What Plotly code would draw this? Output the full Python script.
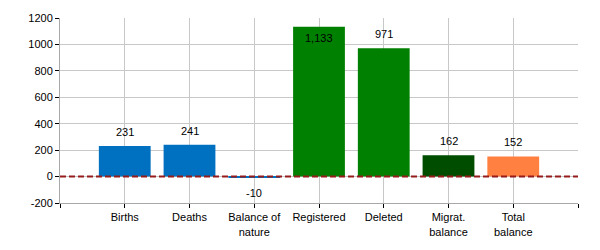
import plotly.graph_objects as go

categories = ["Births", "Deaths", "Balance of<br>nature", "Registered", "Deleted", "Migrat.<br>balance", "Total<br>balance"]
values = [231, 241, -10, 1133, 971, 162, 152]
colors = ["#0070C0", "#0070C0", "#0070C0", "#008000", "#008000", "#004D00", "#FF8040"]
labels = ["231", "241", "-10", "1,133", "971", "162", "152"]
y_ticks = [-200, 0, 200, 400, 600, 800, 1000, 1200]
y_tick_text = ["-200", "0", "200", "400", "600", "800", "1000", "1200"]

positions = list(range(1, len(categories) + 1))

fig = go.Figure()
fig.add_trace(go.Bar(x=positions, y=values, marker=dict(color=colors, line=dict(width=0)),
                     width=0.8, hoverinfo="skip"))

y_min, y_max = -200, 1200
plot_h = 250 - 15 - 46
px_per_unit = plot_h / (y_max - y_min)
annotations = []
for p, v, lab in zip(positions, values, labels):
    if v >= 0:
        room = (y_max - v) * px_per_unit
        shift = 14 if room > 20 else -11
    else:
        shift = -15
    annotations.append(dict(x=p, y=v, text=lab, showarrow=False, yshift=shift,
                            font=dict(size=11, color="#000000", family="Liberation Sans, Arial, sans-serif")))

fig.add_shape(type="line", xref="paper", yref="y", x0=0, x1=1, y0=0, y1=0,
              line=dict(color="#961C1C", width=2, dash="6px,3px"), layer="above")

fig.update_layout(
    width=600, height=250,
    margin=dict(l=60, r=22, t=15, b=46),
    paper_bgcolor="white", plot_bgcolor="white",
    showlegend=False,
    annotations=annotations,
    font=dict(family="Liberation Sans, Arial, sans-serif", size=11, color="#000000"),
    xaxis=dict(range=[0, len(categories) + 1], tickvals=[0] + positions + [len(categories) + 1],
               ticktext=[""] + categories + [""], showgrid=True, gridcolor="#C8C8C8", gridwidth=1,
               showline=True, linecolor="#A8A8A8", linewidth=1, ticks="outside", ticklen=4,
               tickcolor="#000000", zeroline=False, tickfont=dict(size=11)),
    yaxis=dict(range=[y_min, y_max], tickvals=y_ticks, ticktext=y_tick_text, showgrid=True,
               gridcolor="#C8C8C8", gridwidth=1, showline=True, linecolor="#A8A8A8", linewidth=1,
               ticks="outside", ticklen=4, tickcolor="#000000", zeroline=False, tickfont=dict(size=11)),
)

fig.write_html("out.html")
